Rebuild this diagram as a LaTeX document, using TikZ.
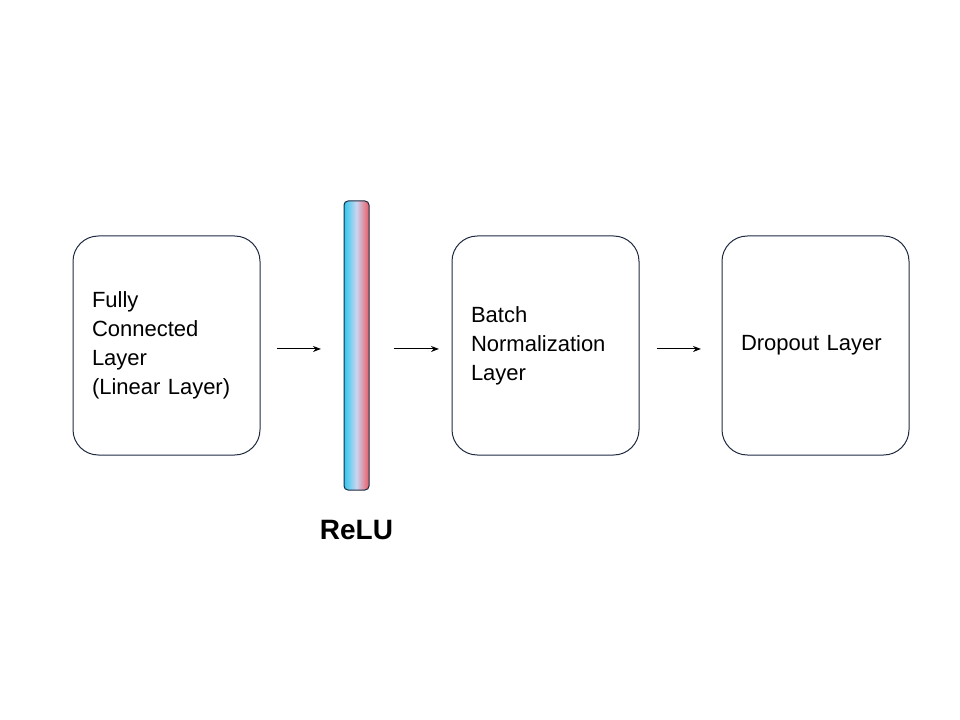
\documentclass[tikz,border=0pt]{standalone}
\usepackage{fontspec}
\setmainfont{Liberation Sans}
\usetikzlibrary{positioning}
\usetikzlibrary{arrows.meta}

\definecolor{boxline}{HTML}{1F2A40}
\definecolor{barleft}{HTML}{2EC8EE}
\definecolor{barmid}{HTML}{CAD6F0}
\definecolor{barright}{HTML}{EA5A64}
\pgfdeclarehorizontalshading{relushade}{100bp}{color(0bp)=(barleft); color(25bp)=(barleft); color(50bp)=(barmid); color(75bp)=(barright); color(100bp)=(barright)}

\tikzset{
  layerbox/.style={draw=boxline, line width=0.75pt, rounded corners=19pt,
    minimum width=140.25pt, minimum height=164.25pt, text width=111.75pt,
    inner xsep=14.25pt, align=left, font=\fontsize{16.5}{21.75}\selectfont},
  relubar/.style={draw=boxline, line width=0.75pt, rounded corners=3pt,
    shading=relushade, minimum width=18.75pt, minimum height=216.75pt, inner sep=0pt},
  flow/.style={-{Stealth[length=6pt,width=4.5pt]}, line width=0.75pt, black}
}

\begin{document}
\begin{tikzpicture}[x=0.75pt, y=-0.75pt]
\useasboundingbox (0,0) rectangle (960,720);

\node[layerbox] (fc) at (166.5,345.5) {Fully\\Connected\\Layer\\(Linear Layer)};
\node[relubar, right=62.25pt of fc] (relu) {};
\node[below=18.75pt of relu, font=\fontsize{21}{25}\selectfont\bfseries] (relulabel) {ReLU};
\node[layerbox, right=61.5pt of relu] (bn) {Batch\\Normalization\\Layer};
\node[layerbox, right=61.5pt of bn] (drop) {Dropout Layer};

\draw[flow, shorten <=12.4pt, shorten >=16.9pt] ([yshift=-2.6pt]fc.east) -- ([yshift=-2.6pt]relu.west);
\draw[flow, shorten <=18.4pt, shorten >=9.4pt] ([yshift=-2.6pt]relu.east) -- ([yshift=-2.6pt]bn.west);
\draw[flow, shorten <=13.1pt, shorten >=15.4pt] ([yshift=-2.6pt]bn.east) -- ([yshift=-2.6pt]drop.west);

\end{tikzpicture}
\end{document}
